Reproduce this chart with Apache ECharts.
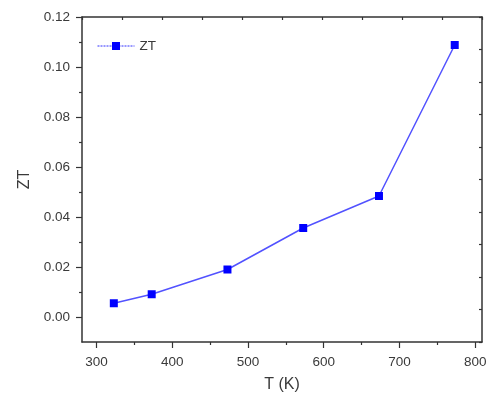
<!DOCTYPE html>
<html>
<head>
<meta charset="utf-8">
<script src="https://cdn.jsdelivr.net/npm/echarts@6/dist/echarts.min.js"></script>
<style>
  html, body { margin: 0; padding: 0; background: #fff; }
  #zt_chart { width: 501px; height: 398px; }
</style>
</head>
<body>
<div id="zt_chart"></div>
<script>
// data
const temps = [323, 373, 473, 573, 673, 773];
const ztValues = [0.0055, 0.0091, 0.019, 0.0356, 0.0484, 0.1088];

// tick positions
const xMajorTicks = [300, 400, 500, 600, 700, 800];
const xMinorTicks = [350, 450, 550, 650, 750];
const yMajorTicks = [0, 0.02, 0.04, 0.06, 0.08, 0.1, 0.12];
const yMinorTicks = [0.01, 0.03, 0.05, 0.07, 0.09, 0.11];

const axisColor = "#333";
const textColor = "#3a3a3a";
const font = "Liberation Sans, Arial, sans-serif";

const chart = echarts.init(document.getElementById("zt_chart"));

const option = {
  animation: false,
  backgroundColor: "#fff",
  grid: { left: 82, top: 17, width: 400, height: 325 },
  legend: {
    left: 92,
    top: 34,
    itemWidth: 37,
    itemHeight: 10,
    itemGap: 4,
    lineStyle: { type: [2, 1], width: 1, color: "#3030ff" },
    textStyle: { fontFamily: font, fontSize: 13.5, color: textColor },
    data: ["ZT"]
  },
  xAxis: [
    {
      type: "value",
      position: "bottom",
      min: 281,
      max: 809,
      name: "T (K)",
      nameLocation: "middle",
      nameGap: 35,
      nameTextStyle: { fontFamily: font, fontSize: 16, color: textColor },
      splitLine: { show: false },
      axisLine: { onZero: false, lineStyle: { color: axisColor, width: 1.5 } },
      axisTick: {
        customValues: xMajorTicks,
        length: 6,
        lineStyle: { color: axisColor, width: 1.2 }
      },
      axisLabel: {
        customValues: xMajorTicks,
        fontFamily: font,
        fontSize: 13.5,
        color: textColor,
        margin: 13
      }
    },
    {
      type: "value",
      position: "bottom",
      min: 281,
      max: 809,
      splitLine: { show: false },
      axisLine: { show: false, onZero: false },
      axisTick: {
        customValues: xMinorTicks,
        length: 3,
        lineStyle: { color: axisColor, width: 1.2 }
      },
      axisLabel: { show: false }
    },
    {
      type: "value",
      position: "top",
      min: 0,
      max: 10,
      interval: 1,
      splitLine: { show: false },
      axisLine: { onZero: false, lineStyle: { color: axisColor, width: 1.5 } },
      axisTick: { inside: true, length: 3, lineStyle: { color: axisColor, width: 1.2 } },
      axisLabel: { show: false }
    }
  ],
  yAxis: [
    {
      type: "value",
      position: "left",
      min: -0.01,
      max: 0.12,
      name: "ZT",
      nameLocation: "middle",
      nameGap: 48,
      nameRotate: 90,
      nameTextStyle: { fontFamily: font, fontSize: 16, color: textColor },
      splitLine: { show: false },
      axisLine: { onZero: false, lineStyle: { color: axisColor, width: 1.5 } },
      axisTick: {
        customValues: yMajorTicks,
        length: 6,
        lineStyle: { color: axisColor, width: 1.2 }
      },
      axisLabel: {
        customValues: yMajorTicks,
        formatter: v => v.toFixed(2),
        fontFamily: font,
        fontSize: 13.5,
        color: textColor,
        margin: 12
      }
    },
    {
      type: "value",
      position: "left",
      min: -0.01,
      max: 0.12,
      splitLine: { show: false },
      axisLine: { show: false, onZero: false },
      axisTick: {
        customValues: yMinorTicks,
        length: 3,
        lineStyle: { color: axisColor, width: 1.2 }
      },
      axisLabel: { show: false }
    },
    {
      type: "value",
      position: "right",
      min: 0,
      max: 10,
      interval: 1,
      splitLine: { show: false },
      axisLine: { onZero: false, lineStyle: { color: axisColor, width: 1.5 } },
      axisTick: { inside: true, length: 3, lineStyle: { color: axisColor, width: 1.2 } },
      axisLabel: { show: false }
    }
  ],
  series: [
    {
      name: "ZT",
      type: "line",
      xAxisIndex: 0,
      yAxisIndex: 0,
      data: temps.map((t, i) => [t, ztValues[i]]),
      symbol: "rect",
      symbolSize: 8,
      lineStyle: { color: "#5252ff", width: 1.5 },
      itemStyle: { color: "#0000ff" }
    }
  ]
};

chart.setOption(option);
</script>
</body>
</html>
